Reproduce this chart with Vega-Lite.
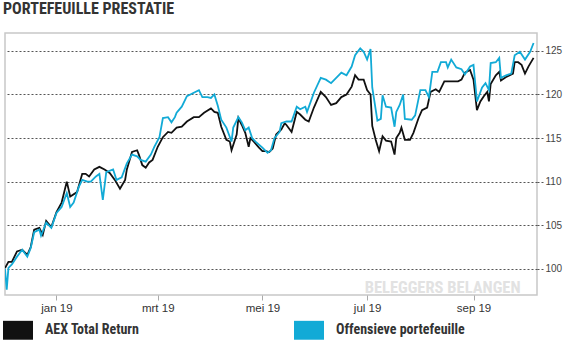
{
  "$schema": "https://vega.github.io/schema/vega-lite/v6.json",
  "width": 532,
  "height": 262,
  "autosize": {"type": "none"},
  "padding": {"left": 5, "top": 33, "right": 26, "bottom": 48},
  "background": "white",
  "title": {"text": "PORTEFEUILLE PRESTATIE", "anchor": "start", "frame": "group", "font": "Roboto Condensed, Liberation Sans, sans-serif", "fontWeight": "bold", "fontSize": 16, "color": "#333333", "baseline": "alphabetic", "offset": 0, "dx": -2, "dy": -3.5},
  "config": {
    "view": {"stroke": "#c8c8c8", "strokeWidth": 1.5},
    "axis": {"labelColor": "#444444"}
  },
  "datasets": {
    "wm": [{"date": "2019-08-14", "value": 97.25, "label": "BELEGGERS BELANGEN"}],
    "perf": [
      {"date": "2018-12-02", "series": "AEX Total Return", "value": 100.1},
      {"date": "2018-12-04", "series": "AEX Total Return", "value": 100.8},
      {"date": "2018-12-06", "series": "AEX Total Return", "value": 100.8},
      {"date": "2018-12-09", "series": "AEX Total Return", "value": 102.0},
      {"date": "2018-12-12", "series": "AEX Total Return", "value": 102.2},
      {"date": "2018-12-15", "series": "AEX Total Return", "value": 101.6},
      {"date": "2018-12-17", "series": "AEX Total Return", "value": 102.5},
      {"date": "2018-12-19", "series": "AEX Total Return", "value": 104.5},
      {"date": "2018-12-22", "series": "AEX Total Return", "value": 104.7},
      {"date": "2018-12-24", "series": "AEX Total Return", "value": 103.9},
      {"date": "2018-12-26", "series": "AEX Total Return", "value": 105.5},
      {"date": "2018-12-29", "series": "AEX Total Return", "value": 104.8},
      {"date": "2019-01-01", "series": "AEX Total Return", "value": 106.5},
      {"date": "2019-01-04", "series": "AEX Total Return", "value": 107.6},
      {"date": "2019-01-07", "series": "AEX Total Return", "value": 110.0},
      {"date": "2019-01-09", "series": "AEX Total Return", "value": 108.3},
      {"date": "2019-01-13", "series": "AEX Total Return", "value": 108.8},
      {"date": "2019-01-16", "series": "AEX Total Return", "value": 110.9},
      {"date": "2019-01-18", "series": "AEX Total Return", "value": 110.9},
      {"date": "2019-01-20", "series": "AEX Total Return", "value": 110.6},
      {"date": "2019-01-23", "series": "AEX Total Return", "value": 111.4},
      {"date": "2019-01-26", "series": "AEX Total Return", "value": 111.7},
      {"date": "2019-01-29", "series": "AEX Total Return", "value": 111.4},
      {"date": "2019-02-01", "series": "AEX Total Return", "value": 111.0},
      {"date": "2019-02-04", "series": "AEX Total Return", "value": 110.2},
      {"date": "2019-02-07", "series": "AEX Total Return", "value": 109.2},
      {"date": "2019-02-10", "series": "AEX Total Return", "value": 110.2},
      {"date": "2019-02-11", "series": "AEX Total Return", "value": 111.4},
      {"date": "2019-02-14", "series": "AEX Total Return", "value": 113.4},
      {"date": "2019-02-17", "series": "AEX Total Return", "value": 113.6},
      {"date": "2019-02-18", "series": "AEX Total Return", "value": 113.1},
      {"date": "2019-02-20", "series": "AEX Total Return", "value": 111.9},
      {"date": "2019-02-22", "series": "AEX Total Return", "value": 111.6},
      {"date": "2019-02-24", "series": "AEX Total Return", "value": 112.2},
      {"date": "2019-02-26", "series": "AEX Total Return", "value": 112.5},
      {"date": "2019-03-01", "series": "AEX Total Return", "value": 114.0},
      {"date": "2019-03-04", "series": "AEX Total Return", "value": 115.1},
      {"date": "2019-03-07", "series": "AEX Total Return", "value": 115.7},
      {"date": "2019-03-09", "series": "AEX Total Return", "value": 115.6},
      {"date": "2019-03-12", "series": "AEX Total Return", "value": 116.2},
      {"date": "2019-03-15", "series": "AEX Total Return", "value": 116.3},
      {"date": "2019-03-18", "series": "AEX Total Return", "value": 116.9},
      {"date": "2019-03-22", "series": "AEX Total Return", "value": 117.4},
      {"date": "2019-03-25", "series": "AEX Total Return", "value": 117.4},
      {"date": "2019-03-28", "series": "AEX Total Return", "value": 117.9},
      {"date": "2019-04-01", "series": "AEX Total Return", "value": 118.4},
      {"date": "2019-04-03", "series": "AEX Total Return", "value": 118.0},
      {"date": "2019-04-05", "series": "AEX Total Return", "value": 117.9},
      {"date": "2019-04-07", "series": "AEX Total Return", "value": 116.3},
      {"date": "2019-04-10", "series": "AEX Total Return", "value": 114.8},
      {"date": "2019-04-12", "series": "AEX Total Return", "value": 114.6},
      {"date": "2019-04-13", "series": "AEX Total Return", "value": 113.6},
      {"date": "2019-04-16", "series": "AEX Total Return", "value": 115.4},
      {"date": "2019-04-17", "series": "AEX Total Return", "value": 117.3},
      {"date": "2019-04-19", "series": "AEX Total Return", "value": 116.5},
      {"date": "2019-04-21", "series": "AEX Total Return", "value": 115.6},
      {"date": "2019-04-23", "series": "AEX Total Return", "value": 114.0},
      {"date": "2019-04-24", "series": "AEX Total Return", "value": 115.0},
      {"date": "2019-04-26", "series": "AEX Total Return", "value": 114.6},
      {"date": "2019-04-29", "series": "AEX Total Return", "value": 113.9},
      {"date": "2019-05-01", "series": "AEX Total Return", "value": 113.5},
      {"date": "2019-05-03", "series": "AEX Total Return", "value": 113.5},
      {"date": "2019-05-05", "series": "AEX Total Return", "value": 113.4},
      {"date": "2019-05-07", "series": "AEX Total Return", "value": 113.8},
      {"date": "2019-05-09", "series": "AEX Total Return", "value": 115.4},
      {"date": "2019-05-12", "series": "AEX Total Return", "value": 116.0},
      {"date": "2019-05-14", "series": "AEX Total Return", "value": 116.7},
      {"date": "2019-05-15", "series": "AEX Total Return", "value": 116.5},
      {"date": "2019-05-18", "series": "AEX Total Return", "value": 115.7},
      {"date": "2019-05-21", "series": "AEX Total Return", "value": 118.0},
      {"date": "2019-05-23", "series": "AEX Total Return", "value": 117.7},
      {"date": "2019-05-26", "series": "AEX Total Return", "value": 117.1},
      {"date": "2019-05-28", "series": "AEX Total Return", "value": 116.9},
      {"date": "2019-05-31", "series": "AEX Total Return", "value": 118.5},
      {"date": "2019-06-04", "series": "AEX Total Return", "value": 120.3},
      {"date": "2019-06-07", "series": "AEX Total Return", "value": 119.7},
      {"date": "2019-06-10", "series": "AEX Total Return", "value": 118.8},
      {"date": "2019-06-13", "series": "AEX Total Return", "value": 119.0},
      {"date": "2019-06-16", "series": "AEX Total Return", "value": 119.7},
      {"date": "2019-06-19", "series": "AEX Total Return", "value": 120.0},
      {"date": "2019-06-22", "series": "AEX Total Return", "value": 120.9},
      {"date": "2019-06-24", "series": "AEX Total Return", "value": 122.2},
      {"date": "2019-06-26", "series": "AEX Total Return", "value": 121.7},
      {"date": "2019-06-29", "series": "AEX Total Return", "value": 121.7},
      {"date": "2019-07-01", "series": "AEX Total Return", "value": 120.5},
      {"date": "2019-07-03", "series": "AEX Total Return", "value": 120.0},
      {"date": "2019-07-04", "series": "AEX Total Return", "value": 116.4},
      {"date": "2019-07-06", "series": "AEX Total Return", "value": 114.8},
      {"date": "2019-07-08", "series": "AEX Total Return", "value": 113.5},
      {"date": "2019-07-10", "series": "AEX Total Return", "value": 115.2},
      {"date": "2019-07-12", "series": "AEX Total Return", "value": 114.7},
      {"date": "2019-07-15", "series": "AEX Total Return", "value": 114.6},
      {"date": "2019-07-17", "series": "AEX Total Return", "value": 113.1},
      {"date": "2019-07-18", "series": "AEX Total Return", "value": 115.0},
      {"date": "2019-07-20", "series": "AEX Total Return", "value": 115.6},
      {"date": "2019-07-21", "series": "AEX Total Return", "value": 116.2},
      {"date": "2019-07-23", "series": "AEX Total Return", "value": 114.8},
      {"date": "2019-07-26", "series": "AEX Total Return", "value": 114.8},
      {"date": "2019-07-28", "series": "AEX Total Return", "value": 115.6},
      {"date": "2019-07-31", "series": "AEX Total Return", "value": 117.3},
      {"date": "2019-08-02", "series": "AEX Total Return", "value": 118.2},
      {"date": "2019-08-05", "series": "AEX Total Return", "value": 118.5},
      {"date": "2019-08-07", "series": "AEX Total Return", "value": 120.3},
      {"date": "2019-08-10", "series": "AEX Total Return", "value": 120.6},
      {"date": "2019-08-12", "series": "AEX Total Return", "value": 120.3},
      {"date": "2019-08-15", "series": "AEX Total Return", "value": 121.5},
      {"date": "2019-08-19", "series": "AEX Total Return", "value": 121.5},
      {"date": "2019-08-23", "series": "AEX Total Return", "value": 121.5},
      {"date": "2019-08-25", "series": "AEX Total Return", "value": 121.7},
      {"date": "2019-08-27", "series": "AEX Total Return", "value": 122.5},
      {"date": "2019-08-30", "series": "AEX Total Return", "value": 122.8},
      {"date": "2019-09-01", "series": "AEX Total Return", "value": 121.7},
      {"date": "2019-09-03", "series": "AEX Total Return", "value": 118.2},
      {"date": "2019-09-05", "series": "AEX Total Return", "value": 119.2},
      {"date": "2019-09-07", "series": "AEX Total Return", "value": 119.8},
      {"date": "2019-09-09", "series": "AEX Total Return", "value": 120.3},
      {"date": "2019-09-10", "series": "AEX Total Return", "value": 119.2},
      {"date": "2019-09-11", "series": "AEX Total Return", "value": 121.2},
      {"date": "2019-09-14", "series": "AEX Total Return", "value": 122.2},
      {"date": "2019-09-16", "series": "AEX Total Return", "value": 122.6},
      {"date": "2019-09-17", "series": "AEX Total Return", "value": 121.6},
      {"date": "2019-09-20", "series": "AEX Total Return", "value": 122.0},
      {"date": "2019-09-21", "series": "AEX Total Return", "value": 122.1},
      {"date": "2019-09-24", "series": "AEX Total Return", "value": 122.4},
      {"date": "2019-09-25", "series": "AEX Total Return", "value": 123.7},
      {"date": "2019-09-27", "series": "AEX Total Return", "value": 123.7},
      {"date": "2019-09-29", "series": "AEX Total Return", "value": 123.4},
      {"date": "2019-10-01", "series": "AEX Total Return", "value": 122.4},
      {"date": "2019-10-03", "series": "AEX Total Return", "value": 123.2},
      {"date": "2019-10-06", "series": "AEX Total Return", "value": 124.2},
      {"date": "2018-12-02", "series": "Offensieve portefeuille", "value": 100.0},
      {"date": "2018-12-03", "series": "Offensieve portefeuille", "value": 97.6},
      {"date": "2018-12-04", "series": "Offensieve portefeuille", "value": 100.1},
      {"date": "2018-12-06", "series": "Offensieve portefeuille", "value": 100.5},
      {"date": "2018-12-09", "series": "Offensieve portefeuille", "value": 101.4},
      {"date": "2018-12-12", "series": "Offensieve portefeuille", "value": 102.2},
      {"date": "2018-12-15", "series": "Offensieve portefeuille", "value": 101.4},
      {"date": "2018-12-17", "series": "Offensieve portefeuille", "value": 102.4},
      {"date": "2018-12-19", "series": "Offensieve portefeuille", "value": 104.2},
      {"date": "2018-12-22", "series": "Offensieve portefeuille", "value": 104.5},
      {"date": "2018-12-23", "series": "Offensieve portefeuille", "value": 103.8},
      {"date": "2018-12-26", "series": "Offensieve portefeuille", "value": 105.3},
      {"date": "2018-12-29", "series": "Offensieve portefeuille", "value": 104.7},
      {"date": "2019-01-01", "series": "Offensieve portefeuille", "value": 106.4},
      {"date": "2019-01-04", "series": "Offensieve portefeuille", "value": 107.1},
      {"date": "2019-01-07", "series": "Offensieve portefeuille", "value": 108.7},
      {"date": "2019-01-09", "series": "Offensieve portefeuille", "value": 107.1},
      {"date": "2019-01-11", "series": "Offensieve portefeuille", "value": 107.6},
      {"date": "2019-01-14", "series": "Offensieve portefeuille", "value": 109.4},
      {"date": "2019-01-16", "series": "Offensieve portefeuille", "value": 110.2},
      {"date": "2019-01-19", "series": "Offensieve portefeuille", "value": 110.0},
      {"date": "2019-01-21", "series": "Offensieve portefeuille", "value": 110.0},
      {"date": "2019-01-24", "series": "Offensieve portefeuille", "value": 110.6},
      {"date": "2019-01-26", "series": "Offensieve portefeuille", "value": 110.9},
      {"date": "2019-01-28", "series": "Offensieve portefeuille", "value": 107.9},
      {"date": "2019-01-30", "series": "Offensieve portefeuille", "value": 111.1},
      {"date": "2019-02-03", "series": "Offensieve portefeuille", "value": 111.4},
      {"date": "2019-02-05", "series": "Offensieve portefeuille", "value": 110.2},
      {"date": "2019-02-08", "series": "Offensieve portefeuille", "value": 110.5},
      {"date": "2019-02-11", "series": "Offensieve portefeuille", "value": 112.1},
      {"date": "2019-02-14", "series": "Offensieve portefeuille", "value": 113.1},
      {"date": "2019-02-17", "series": "Offensieve portefeuille", "value": 112.9},
      {"date": "2019-02-19", "series": "Offensieve portefeuille", "value": 112.5},
      {"date": "2019-02-22", "series": "Offensieve portefeuille", "value": 112.3},
      {"date": "2019-02-25", "series": "Offensieve portefeuille", "value": 113.1},
      {"date": "2019-02-27", "series": "Offensieve portefeuille", "value": 114.0},
      {"date": "2019-03-02", "series": "Offensieve portefeuille", "value": 115.1},
      {"date": "2019-03-04", "series": "Offensieve portefeuille", "value": 117.3},
      {"date": "2019-03-07", "series": "Offensieve portefeuille", "value": 117.4},
      {"date": "2019-03-09", "series": "Offensieve portefeuille", "value": 116.8},
      {"date": "2019-03-11", "series": "Offensieve portefeuille", "value": 117.4},
      {"date": "2019-03-12", "series": "Offensieve portefeuille", "value": 117.9},
      {"date": "2019-03-15", "series": "Offensieve portefeuille", "value": 118.6},
      {"date": "2019-03-18", "series": "Offensieve portefeuille", "value": 119.8},
      {"date": "2019-03-20", "series": "Offensieve portefeuille", "value": 120.0},
      {"date": "2019-03-22", "series": "Offensieve portefeuille", "value": 120.2},
      {"date": "2019-03-25", "series": "Offensieve portefeuille", "value": 120.5},
      {"date": "2019-03-27", "series": "Offensieve portefeuille", "value": 119.7},
      {"date": "2019-03-30", "series": "Offensieve portefeuille", "value": 119.7},
      {"date": "2019-04-01", "series": "Offensieve portefeuille", "value": 119.6},
      {"date": "2019-04-03", "series": "Offensieve portefeuille", "value": 120.0},
      {"date": "2019-04-05", "series": "Offensieve portefeuille", "value": 118.7},
      {"date": "2019-04-07", "series": "Offensieve portefeuille", "value": 117.1},
      {"date": "2019-04-10", "series": "Offensieve portefeuille", "value": 116.2},
      {"date": "2019-04-13", "series": "Offensieve portefeuille", "value": 114.6},
      {"date": "2019-04-14", "series": "Offensieve portefeuille", "value": 116.2},
      {"date": "2019-04-17", "series": "Offensieve portefeuille", "value": 117.4},
      {"date": "2019-04-19", "series": "Offensieve portefeuille", "value": 116.8},
      {"date": "2019-04-21", "series": "Offensieve portefeuille", "value": 115.9},
      {"date": "2019-04-23", "series": "Offensieve portefeuille", "value": 116.2},
      {"date": "2019-04-25", "series": "Offensieve portefeuille", "value": 115.0},
      {"date": "2019-04-27", "series": "Offensieve portefeuille", "value": 114.6},
      {"date": "2019-05-01", "series": "Offensieve portefeuille", "value": 113.9},
      {"date": "2019-05-04", "series": "Offensieve portefeuille", "value": 113.3},
      {"date": "2019-05-06", "series": "Offensieve portefeuille", "value": 113.6},
      {"date": "2019-05-08", "series": "Offensieve portefeuille", "value": 115.0},
      {"date": "2019-05-11", "series": "Offensieve portefeuille", "value": 115.7},
      {"date": "2019-05-12", "series": "Offensieve portefeuille", "value": 116.7},
      {"date": "2019-05-15", "series": "Offensieve portefeuille", "value": 116.9},
      {"date": "2019-05-18", "series": "Offensieve portefeuille", "value": 116.9},
      {"date": "2019-05-21", "series": "Offensieve portefeuille", "value": 118.6},
      {"date": "2019-05-23", "series": "Offensieve portefeuille", "value": 118.3},
      {"date": "2019-05-26", "series": "Offensieve portefeuille", "value": 118.6},
      {"date": "2019-05-27", "series": "Offensieve portefeuille", "value": 118.0},
      {"date": "2019-05-31", "series": "Offensieve portefeuille", "value": 120.2},
      {"date": "2019-06-04", "series": "Offensieve portefeuille", "value": 121.9},
      {"date": "2019-06-07", "series": "Offensieve portefeuille", "value": 121.7},
      {"date": "2019-06-10", "series": "Offensieve portefeuille", "value": 121.3},
      {"date": "2019-06-13", "series": "Offensieve portefeuille", "value": 121.9},
      {"date": "2019-06-16", "series": "Offensieve portefeuille", "value": 122.5},
      {"date": "2019-06-19", "series": "Offensieve portefeuille", "value": 122.2},
      {"date": "2019-06-22", "series": "Offensieve portefeuille", "value": 123.2},
      {"date": "2019-06-24", "series": "Offensieve portefeuille", "value": 124.5},
      {"date": "2019-06-27", "series": "Offensieve portefeuille", "value": 125.3},
      {"date": "2019-06-29", "series": "Offensieve portefeuille", "value": 124.9},
      {"date": "2019-07-01", "series": "Offensieve portefeuille", "value": 124.0},
      {"date": "2019-07-03", "series": "Offensieve portefeuille", "value": 125.2},
      {"date": "2019-07-04", "series": "Offensieve portefeuille", "value": 120.8},
      {"date": "2019-07-07", "series": "Offensieve portefeuille", "value": 117.0},
      {"date": "2019-07-09", "series": "Offensieve portefeuille", "value": 117.2},
      {"date": "2019-07-10", "series": "Offensieve portefeuille", "value": 119.9},
      {"date": "2019-07-12", "series": "Offensieve portefeuille", "value": 118.6},
      {"date": "2019-07-15", "series": "Offensieve portefeuille", "value": 118.5},
      {"date": "2019-07-17", "series": "Offensieve portefeuille", "value": 116.3},
      {"date": "2019-07-18", "series": "Offensieve portefeuille", "value": 118.0},
      {"date": "2019-07-20", "series": "Offensieve portefeuille", "value": 118.8},
      {"date": "2019-07-22", "series": "Offensieve portefeuille", "value": 120.0},
      {"date": "2019-07-23", "series": "Offensieve portefeuille", "value": 117.2},
      {"date": "2019-07-27", "series": "Offensieve portefeuille", "value": 117.1},
      {"date": "2019-07-29", "series": "Offensieve portefeuille", "value": 117.6},
      {"date": "2019-08-01", "series": "Offensieve portefeuille", "value": 120.5},
      {"date": "2019-08-04", "series": "Offensieve portefeuille", "value": 120.5},
      {"date": "2019-08-06", "series": "Offensieve portefeuille", "value": 119.7},
      {"date": "2019-08-08", "series": "Offensieve portefeuille", "value": 122.6},
      {"date": "2019-08-11", "series": "Offensieve portefeuille", "value": 122.6},
      {"date": "2019-08-13", "series": "Offensieve portefeuille", "value": 123.7},
      {"date": "2019-08-16", "series": "Offensieve portefeuille", "value": 123.7},
      {"date": "2019-08-17", "series": "Offensieve portefeuille", "value": 123.1},
      {"date": "2019-08-19", "series": "Offensieve portefeuille", "value": 124.0},
      {"date": "2019-08-22", "series": "Offensieve portefeuille", "value": 123.1},
      {"date": "2019-08-25", "series": "Offensieve portefeuille", "value": 122.9},
      {"date": "2019-08-27", "series": "Offensieve portefeuille", "value": 122.3},
      {"date": "2019-08-30", "series": "Offensieve portefeuille", "value": 123.2},
      {"date": "2019-09-01", "series": "Offensieve portefeuille", "value": 123.4},
      {"date": "2019-09-03", "series": "Offensieve portefeuille", "value": 119.2},
      {"date": "2019-09-06", "series": "Offensieve portefeuille", "value": 120.8},
      {"date": "2019-09-08", "series": "Offensieve portefeuille", "value": 121.3},
      {"date": "2019-09-10", "series": "Offensieve portefeuille", "value": 120.5},
      {"date": "2019-09-11", "series": "Offensieve portefeuille", "value": 123.6},
      {"date": "2019-09-14", "series": "Offensieve portefeuille", "value": 123.7},
      {"date": "2019-09-16", "series": "Offensieve portefeuille", "value": 124.2},
      {"date": "2019-09-17", "series": "Offensieve portefeuille", "value": 121.9},
      {"date": "2019-09-20", "series": "Offensieve portefeuille", "value": 122.2},
      {"date": "2019-09-23", "series": "Offensieve portefeuille", "value": 122.4},
      {"date": "2019-09-25", "series": "Offensieve portefeuille", "value": 124.5},
      {"date": "2019-09-28", "series": "Offensieve portefeuille", "value": 124.9},
      {"date": "2019-10-01", "series": "Offensieve portefeuille", "value": 124.0},
      {"date": "2019-10-04", "series": "Offensieve portefeuille", "value": 124.9},
      {"date": "2019-10-06", "series": "Offensieve portefeuille", "value": 125.9}
    ]
  },
  "layer": [
    {
      "data": {"name": "wm"},
      "mark": {"type": "text", "font": "Roboto Condensed, Liberation Sans, sans-serif", "fontWeight": "bold", "fontSize": 16.5, "color": "#e2e2e2", "align": "center", "baseline": "alphabetic"},
      "encoding": {
        "x": {"field": "date", "type": "temporal"},
        "y": {"field": "value", "type": "quantitative"},
        "text": {"field": "label"}
      }
    },
    {
      "data": {"name": "perf"},
      "mark": {"type": "line", "strokeWidth": 1.8, "clip": true},
      "encoding": {
        "x": {
          "field": "date", "type": "temporal",
          "scale": {"domain": [{"year": 2018, "month": 12, "date": 2}, {"year": 2019, "month": 10, "date": 8}]},
          "axis": {
            "title": null, "grid": false, "domain": false,
            "tickCount": {"interval": "month", "step": 2},
            "tickColor": "#aaaaaa", "tickSize": 5, "tickWidth": 1,
            "labelFont": "Liberation Sans", "labelFontSize": 11.5, "labelColor": "#333333", "labelPadding": 2,
            "labelExpr": "['jan','feb','mrt','apr','mei','jun','jul','aug','sep','okt','nov','dec'][month(datum.value)] + ' ' + timeFormat(datum.value, '%y')"
          }
        },
        "y": {
          "field": "value", "type": "quantitative",
          "scale": {"domain": [97, 127.05], "zero": false, "nice": false},
          "axis": {
            "title": null, "orient": "right", "values": [100, 105, 110, 115, 120, 125],
            "grid": true, "gridColor": "#555555", "gridDash": [2, 2], "gridWidth": 1,
            "domain": false, "tickColor": "#555555", "tickDash": [2, 2], "tickSize": 6,
            "labelFont": "Liberation Sans", "labelFontSize": 10, "labelColor": "#444444", "labelPadding": 2
          }
        },
        "color": {
          "field": "series", "type": "nominal",
          "scale": {"domain": ["AEX Total Return", "Offensieve portefeuille"], "range": ["#111111", "#12aad6"]},
          "legend": {
            "title": null, "orient": "none", "legendX": -2, "legendY": 282,
            "direction": "horizontal", "columns": 2, "columnPadding": 154,
            "symbolType": "M-1,-0.63L1,-0.63L1,0.63L-1,0.63Z", "symbolSize": 900, "symbolStrokeWidth": 0,
            "labelFont": "Roboto Condensed, Liberation Sans, sans-serif", "labelFontWeight": "bold", "labelFontSize": 14, "labelColor": "#333333", "labelOffset": 12,
            "encode": {"symbols": {"update": {"fill": {"scale": "color", "field": "value"}, "fillOpacity": {"value": 1}, "strokeWidth": {"value": 0}}}}
          }
        }
      }
    }
  ]
}
